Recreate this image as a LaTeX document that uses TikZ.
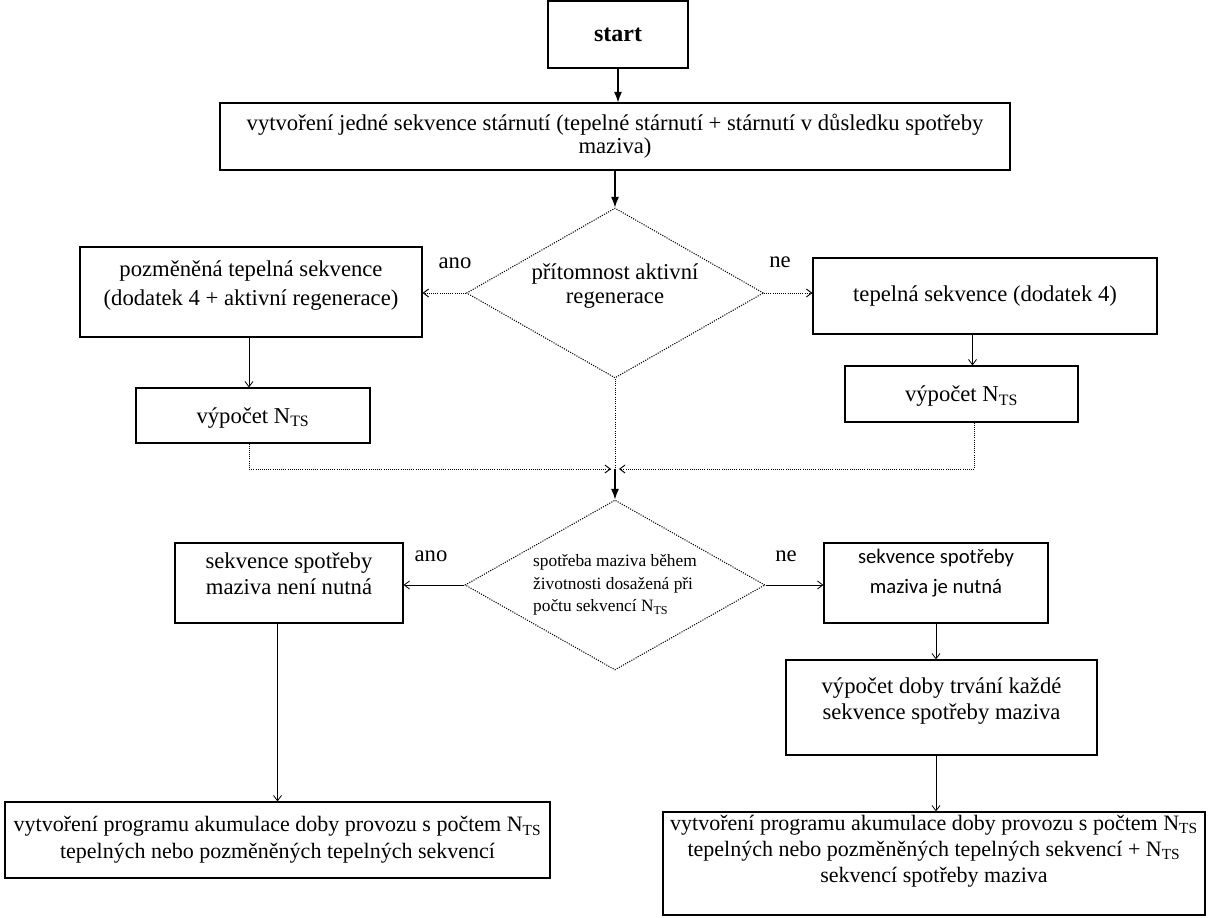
\documentclass[tikz,border=0pt]{standalone}
\usepackage{fontspec}
\setmainfont{Liberation Serif}
\newfontfamily\carlito{Carlito}
\usetikzlibrary{shapes.geometric,arrows.meta,calc}
\newcommand\NTS{N\textsubscript{TS}}
\begin{document}
\begin{tikzpicture}[x=0.75pt,y=-0.75pt,
  every node/.style={font=\fontsize{17}{20}\selectfont},
  box/.style={draw,line width=0.8pt,align=center,inner sep=1pt},
  dec/.style={draw,densely dotted,line width=0.8pt,shape=diamond,shape aspect=2,align=center,inner sep=0pt},
  arrfill/.style={line width=0.8pt,-{Latex[length=8pt,width=6pt]}},
  arrthin/.style={line width=0.6pt,-{Straight Barb[length=4pt,width=6pt]}},
  dotline/.style={densely dotted,line width=0.7pt},
  lbl/.style={inner sep=0pt}]
\useasboundingbox (0,0) rectangle (1215,918);

\node[box,minimum width=105pt,minimum height=50.25pt,font=\fontsize{18}{20}\selectfont\bfseries] (start) at (618,34.5) {start};
\node[box,minimum width=592.5pt,minimum height=50.25pt,font=\fontsize{17}{17.5}\selectfont] (seq) at (615,136.5)
  {vytvoření jedné sekvence stárnutí (tepelné stárnutí + stárnutí v důsledku spotřeby\\ maziva)};
\node[dec,minimum width=222.75pt,minimum height=127.5pt,text depth=14pt,font=\fontsize{17}{18}\selectfont] (d1) at (615,293)
  {přítomnost aktivní\\ regenerace};
\node[box,minimum width=256.5pt,minimum height=67.5pt,text depth=13.5pt,font=\fontsize{17}{22}\selectfont] (mod) at (251,292)
  {pozměněná tepelná sekvence\\ (dodatek 4 + aktivní regenerace)};
\node[box,minimum width=175.5pt,minimum height=41.25pt,text height=15pt] (nl) at (253,415.5) {výpočet \NTS};
\node[box,minimum width=258pt,minimum height=57pt] (therm) at (985,296) {tepelná sekvence (dodatek 4)};
\node[box,minimum width=174.75pt,minimum height=42pt,text height=15pt] (nr) at (961.5,394) {výpočet \NTS};
\node[dec,minimum width=225pt,minimum height=127.5pt,align=left,font=\fontsize{13}{17}\selectfont] (d2) at (615,585)
  {spotřeba maziva během\\ životnosti dosažená při\\ počtu sekvencí \NTS};
\node[box,minimum width=171pt,minimum height=60pt,text depth=14pt] (nonec) at (289,583)
  {sekvence spotřeby\\ maziva není nutná};
\node[box,minimum width=168pt,minimum height=60pt,text depth=17pt,font=\carlito\fontsize{15.5}{22.5}\selectfont] (nec) at (936,583)
  {sekvence spotřeby\\ maziva je nutná};
\node[box,minimum width=233.25pt,minimum height=71.25pt,text depth=14pt,font=\fontsize{17}{19.5}\selectfont] (dur) at (941.5,707.5)
  {výpočet doby trvání každé\\ sekvence spotřeby maziva};
\node[box,minimum width=406.5pt,minimum height=77.25pt,text depth=22pt,font=\fontsize{16.5}{19.5}\selectfont] (progr) at (934,863.5)
  {vytvoření programu akumulace doby provozu s počtem \NTS\\ tepelných nebo pozměněných tepelných sekvencí + \NTS\\ sekvencí spotřeby maziva};
\node[box,minimum width=408.75pt,minimum height=57pt,font=\fontsize{16.5}{20.5}\selectfont] (progl) at (277.5,840)
  {vytvoření programu akumulace doby provozu s počtem \NTS\\ tepelných nebo pozměněných tepelných sekvencí};

\node[lbl] (ano1) at (455,263) {ano};
\node[lbl] (ne1) at (780,262) {ne};
\node[lbl] (ano2) at (431,556) {ano};
\node[lbl] (ne2) at (786,556) {ne};

\coordinate (m) at (615,469);

\draw[arrfill] (start.south) -- (start.south |- seq.north);
\draw[arrfill] (seq.south -| d1.north) -- (d1.north);
\draw[arrthin,dotline] (d1.west) -- (d1.west -| mod.east);
\draw[arrthin,dotline] (d1.east) -- (d1.east -| therm.west);
\draw[arrthin] ([xshift=-3pt]nl.north |- mod.south) -- ([xshift=-3pt]nl.north);
\draw[arrthin] ([xshift=8.25pt]nr.north |- therm.south) -- ([xshift=8.25pt]nr.north);
\draw[arrthin,dotline] ([xshift=-3pt]nl.south) |- ([xshift=-3pt]m);
\draw[arrthin,dotline] ([xshift=9.75pt]nr.south) |- ([xshift=3pt]m);
\draw[dotline] (d1.south) -- (m);
\draw[arrfill] (m) -- (d2.north);
\draw[arrthin] (d2.west) -- (d2.west -| nonec.east);
\draw[arrthin] (d2.east) -- (d2.east -| nec.west);
\draw[arrthin] (progl.north |- nonec.south) -- (progl.north);
\draw[arrthin] (nec.south) -- (nec.south |- dur.north);
\draw[arrthin] (dur.south -| nec.south) -- (nec.south |- progr.north);
\end{tikzpicture}
\end{document}
